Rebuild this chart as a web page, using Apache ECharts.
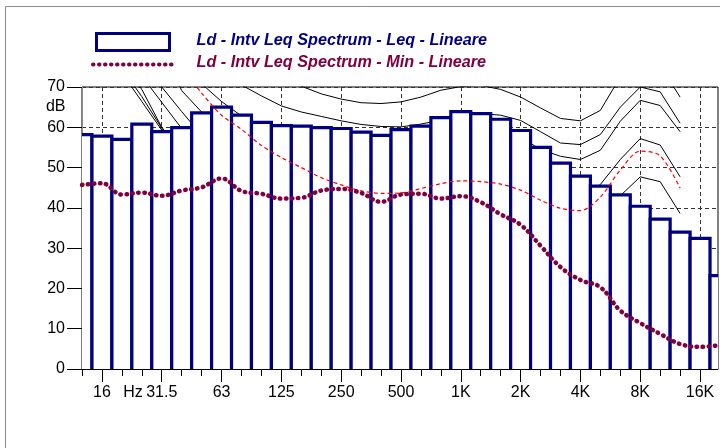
<!DOCTYPE html>
<html><head><meta charset="utf-8">
<script src="https://cdn.jsdelivr.net/npm/echarts@6/dist/echarts.min.js"></script>
<style>html,body{margin:0;padding:0;background:#fff}#c{width:720px;height:448px}</style>
</head><body><div id="c"></div>
<script>
// Third-octave bands (index 0..32)
const categories = ['12.5','16','20','25','31.5','40','50','63','80','100','125','160','200','250','315','400','500','630','800','1K','1.25K','1.6K','2K','2.5K','3.15K','4K','5K','6.3K','8K','10K','12.5K','16K','20K'];
const tickLabels = ['16','31.5','63','125','250','500','1K','2K','4K','8K','16K'];
const yTicks = [0,10,20,30,40,50,60,70];

// Leq spectrum (bars)
const leq = [58.2,57.8,57.0,60.8,58.9,59.9,63.6,65.0,63.0,61.2,60.4,60.3,59.9,59.7,58.8,58.0,59.4,60.3,62.4,63.9,63.4,62.0,59.2,55.0,51.1,47.9,45.4,43.2,40.4,37.2,34.0,32.4,23.2];
// Min spectrum (dotted)
const minLevel = [45.7,46.1,43.3,43.8,43.0,44.3,45.1,47.3,44.2,43.5,42.3,42.5,44.3,44.7,43.7,41.5,43.3,43.5,42.3,42.9,41.4,38.4,35.8,30.6,25.3,22.1,20.3,14.5,11.4,8.7,6.2,5.5,5.9];
// Red dashed contour
const contourRed = [null,null,95,88,81.5,75,68.5,63,59.5,55.5,52.5,50.0,47.5,45.7,44.2,43.6,43.7,44.8,46.0,46.7,46.5,45.9,44.4,41.9,39.9,39.3,42.7,49.4,54.1,52.9,44.9,null,null];
// Black contours
const contour1 = [null,null,105,100,95,90,86,83,80,77,73.5,70.2,68.3,67.0,66.1,65.9,66.3,67.5,69.2,70.1,70.4,69.4,67.5,64.8,62.2,61.6,64.2,72.5,76.5,75.3,67.5,null,null];
const contour2 = [null,null,100,94,89,84,79,74.5,70.5,67.8,65.3,63.8,62.7,61.6,60.7,60.2,60.1,60.8,61.8,62.8,63.4,63.0,61.7,58.9,56.1,55.7,58.2,65.0,70.0,68.8,61.0,null,null];
const contour3 = [null,null,98,90,83,77,70.8,66.4,62.8,60.3,58.6,57.5,56.7,56.0,55.5,55.3,55.5,56.5,57.8,59.0,59.8,59.5,57.5,54.5,52.8,52.0,54.3,61.5,66.7,65.4,58.9,null,null];
const contour4 = [null,null,100,90,80,69.1,63.8,58.5,55,52.5,50.5,49,48,47.3,46.8,46.5,46.6,47.3,48.5,49.8,50.5,50.3,48.8,46,43.3,42.4,45.8,52.0,57.2,55.6,47.7,null,null];
const contour5 = [null,null,95,82,70,63.9,58,52,47,44,42,40.5,39.5,38.8,38.3,38,38.2,39,40,40.3,41,40.8,39.5,37,34,33,36.3,43.0,47.7,46.5,38.6,null,null];
const contour6 = [null,null,90,72.7,66.2,59.7,53,47,42,38,null,null,null,null,null,null,null,null,null,null,null,null,null,null,null,null,null,null,null,null,null,null,null];
const contour7 = [null,null,76.4,69.4,60.0,54,48,43,39,36,null,null,null,null,null,null,null,null,null,null,null,null,null,null,null,null,null,null,null,null,null,null,null];
const contour8 = [null,null,74.7,67.6,59.8,53,47,42,null,null,null,null,null,null,null,null,null,null,null,null,null,null,null,null,null,null,null,null,null,null,null,null,null];
const contour9 = [null,null,73.5,66.4,59.3,52,46,41,null,null,null,null,null,null,null,null,null,null,null,null,null,null,null,null,null,null,null,null,null,null,null,null,null];

const FONT = "'Liberation Sans', Arial, Helvetica, sans-serif";
const NAVY = '#000080', MAROON = '#800040';

function pairs(arr){ const out=[]; arr.forEach((v,i)=>{ if(v!==null) out.push([i,v]); }); return out; }
const majorIdx = tickLabels.map(l => categories.indexOf(l));
const allIdx = categories.map((c,i)=>i).filter(i => i <= 31);

const chart = echarts.init(document.getElementById('c'), null, {renderer:'canvas'});
const contours = [contour1,contour2,contour3,contour4,contour5,contour6,contour7,contour8,contour9];

const series = [];
contours.forEach((c,k)=>{
  series.push({type:'line', name:'contour'+(k+1), data:pairs(c), symbol:'none', smooth:false, z:1, silent:true,
    lineStyle:{color:'#000', width:1}, clip:true});
});
series.push({
  type:'custom', name:'Leq', z:2, clip:true, silent:true,
  data: leq.map((v,i)=>[i,v]),
  encode:{x:0,y:1},
  renderItem:function(params, api){
    const i = api.value(0), v = api.value(1);
    const a = api.coord([i-0.5, v]);
    const b = api.coord([i+0.5, 0]);
    return {type:'group', children:[
      {type:'rect', shape:{x:a[0], y:a[1], width:b[0]-a[0], height:b[1]-a[1]}, style:{fill:'#fff', stroke:null}},
      {type:'polyline', shape:{points:[[a[0],b[1]],[a[0],a[1]],[b[0],a[1]],[b[0],b[1]]]}, style:{stroke:NAVY, lineWidth:3.2, fill:null}}
    ]};
  }
});
series.push({type:'line', name:'red', data:pairs(contourRed), symbol:'none', smooth:0.3, z:3, silent:true, clip:true,
  lineStyle:{color:'#ff0000', width:1.2, type:[4,3]}});
series.push({type:'line', name:'Min', data:pairs(minLevel), symbol:'none', smooth:0.4, z:4, silent:true, clip:true,
  lineStyle:{color:MAROON, width:4.5, type:[0.5,5.5], cap:'round'}});

chart.setOption({
  animation:false,
  backgroundColor:'#fff',
  grid:{left:82, top:87, right:2, bottom:79, show:true, borderColor:'#000', borderWidth:1, backgroundColor:'#fff'},
  xAxis:[{
    type:'value', min:0, max:31.9, position:'bottom',
    axisLine:{show:true, onZero:false, lineStyle:{color:'#000', width:1}},
    axisTick:{show:true, customValues:majorIdx, length:13, lineStyle:{color:'#000'}},
    axisLabel:{show:true, customValues:majorIdx, formatter:v=>categories[Math.round(v)], margin:16, fontSize:16, fontFamily:FONT, color:'#000'},
    splitLine:{show:true, lineStyle:{color:'#333', width:1, type:[4,3]}}
  },{
    type:'value', min:0, max:31.9, position:'bottom',
    axisLine:{show:false},
    axisTick:{show:true, customValues:allIdx, length:7, lineStyle:{color:'#000'}},
    axisLabel:{show:false},
    splitLine:{show:false}
  }],
  yAxis:{
    type:'value', min:0, max:70, interval:10,
    axisLine:{show:true, lineStyle:{color:'#8a8a8a'}},
    axisTick:{show:true, customValues:yTicks, length:15, lineStyle:{color:'#000'}},
    axisLabel:{margin:17, fontSize:16, fontFamily:FONT, color:'#000'},
    splitLine:{show:true, lineStyle:{color:'#333', width:1, type:[4,3]}}
  },
  graphic:[
    {type:'rect', silent:true, shape:{x:5.5, y:6.5, width:900, height:700}, style:{fill:null, stroke:'#8c8c8c', lineWidth:1}},
    {type:'rect', silent:true, shape:{x:96.5, y:33.5, width:73, height:17}, style:{fill:'#fff', stroke:NAVY, lineWidth:3}},
    {type:'text', silent:true, x:196.5, y:41, style:{text:'Ld - Intv Leq Spectrum - Leq - Lineare', fontStyle:'italic', fontWeight:'bold', fontSize:16.2, fontFamily:FONT, fill:NAVY, verticalAlign:'middle'}},
    {type:'line', silent:true, shape:{x1:93, y1:64.5, x2:173, y2:64.5}, style:{stroke:MAROON, lineWidth:4, lineDash:[0.5,5.5], lineCap:'round'}},
    {type:'text', silent:true, x:196.5, y:63, style:{text:'Ld - Intv Leq Spectrum - Min - Lineare', fontStyle:'italic', fontWeight:'bold', fontSize:16.2, fontFamily:FONT, fill:MAROON, verticalAlign:'middle'}},
    {type:'text', silent:true, x:133, y:393, style:{text:'Hz', fontSize:16, fontFamily:FONT, fill:'#000', align:'center', verticalAlign:'middle'}},
    {type:'text', silent:true, x:65.5, y:107, style:{text:'dB', fontSize:16, fontFamily:FONT, fill:'#000', align:'right', verticalAlign:'middle'}}
  ],
  series:series
});
</script>
</body></html>
